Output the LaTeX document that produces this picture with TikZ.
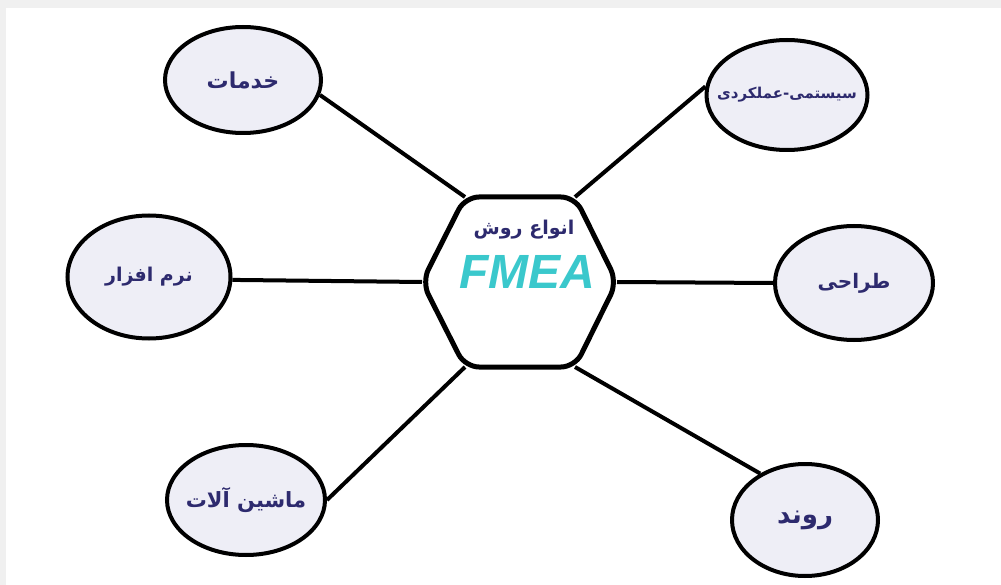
\documentclass[tikz,border=0pt]{standalone}
\usepackage{fontspec}
\setmainfont{Liberation Sans}
\newfontfamily\fa[Script=Arabic]{DejaVu Sans}
\TeXXeTstate=1
\usetikzlibrary{shapes.geometric}
\definecolor{framegray}{RGB}{240,240,240}
\definecolor{bubble}{RGB}{238,238,246}
\definecolor{navy}{RGB}{45,42,110}
\definecolor{fmeacol}{RGB}{58,200,204}
\newcommand{\fsz}[1]{\fa\bfseries\fontsize{#1}{#1}\selectfont}
\newcommand{\rtl}[1]{\makebox[0pt][c]{\beginR #1\endR}}
\begin{document}
\begin{tikzpicture}[x=1pt,y=-1pt,
  bub/.style={ellipse, draw=black, line width=4pt, fill=bubble, inner sep=0pt, text=navy},
  link/.style={line width=4pt, draw=black}]
\fill[framegray] (0,0) rectangle (1001,585);
\fill[white] (6,8) rectangle (1001,585);
\useasboundingbox (0,0) rectangle (1001,585);
% hexagon
\coordinate (hT) at (520,197);
\coordinate (hTR) at (575,197);
\coordinate (hR) at (617,282);
\coordinate (hBR) at (575,367);
\coordinate (hBL) at (465,367);
\coordinate (hL) at (422,282);
\coordinate (hTL) at (465,197);
\draw[line width=5pt, fill=white, rounded corners=14pt] (hT) -- (hTR) -- (hR) -- (hBR) -- (hBL) -- (hL) -- (hTL) -- cycle;
\node[font=\fsz{19}, text=navy] (title) at (524,230) {\beginR انواع روش\endR};
\node[font=\bfseries\itshape\fontsize{48}{50}\selectfont, text=fmeacol] (fmea) at (527,272) {FMEA};
% bubbles
\node[bub, font=\fsz{22}, minimum width=156, minimum height=106] (A) at (243,80) {\rtl{خدمات}};
\node[bub, font=\fsz{15}, minimum width=161, minimum height=110] (B) at (787,95) {\rtl{سیستمی-عملکردی}};
\node[bub, font=\fsz{19}, minimum width=163, minimum height=123] (C) at (149,277) {\rtl{نرم افزار}};
\node[bub, font=\fsz{20}, minimum width=158, minimum height=114] (D) at (854,283) {\rtl{طراحی}};
\node[bub, font=\fsz{21}, minimum width=158, minimum height=110] (E) at (246,500) {\rtl{ماشین آلات}};
\node[bub, font=\fsz{26}, minimum width=146, minimum height=112] (F) at (805,520) {\rtl{روند}};
% links
\draw[link] (A.-11) -- (hTL);
\draw[link] (B.174) -- (hTR);
\draw[link] (C.-2) -- (hL);
\draw[link] (D.west) -- (hR);
\draw[link] (E.0) -- (hBL);
\draw[link] (F.134) -- (hBR);
\end{tikzpicture}
\end{document}
